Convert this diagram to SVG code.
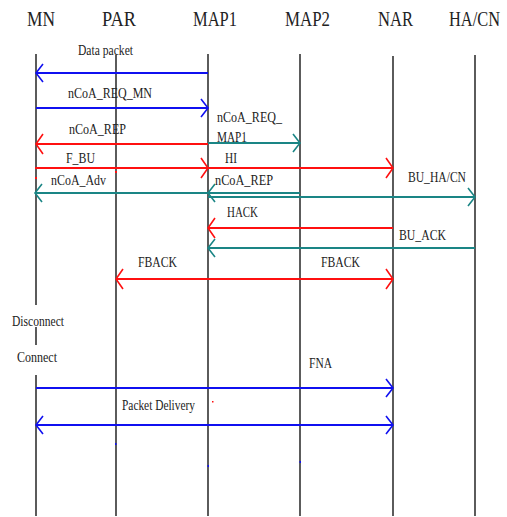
<svg xmlns="http://www.w3.org/2000/svg" width="507" height="517" viewBox="0 0 507 517">
<style>
.life{stroke:#333;stroke-width:1.6;fill:none}
.hdr{font-family:"Liberation Serif","Times New Roman",serif;font-size:21px;fill:#222}
.lbl{font-family:"Liberation Serif","Times New Roman",serif;font-size:14px;fill:#222}
.blue{stroke:#1010f0;stroke-width:2.2;fill:none}
.red{stroke:#ff1010;stroke-width:2.2;fill:none}
.teal{stroke:#1a8585;stroke-width:2.2;fill:none}
</style>
<defs>
<marker id="hb" markerUnits="userSpaceOnUse" markerWidth="20" markerHeight="26" viewBox="-10 -13 20 26" refX="0" refY="0" orient="auto-start-reverse"><path d="M-7,-9 L0,0 L-7,9" fill="none" stroke="#1010f0" stroke-width="1.6"/></marker>
<marker id="hr" markerUnits="userSpaceOnUse" markerWidth="20" markerHeight="26" viewBox="-10 -13 20 26" refX="0" refY="0" orient="auto-start-reverse"><path d="M-7,-10 L0,0 L-7,10" fill="none" stroke="#ff1010" stroke-width="1.6"/></marker>
<marker id="ht" markerUnits="userSpaceOnUse" markerWidth="20" markerHeight="26" viewBox="-10 -13 20 26" refX="0" refY="0" orient="auto-start-reverse"><path d="M-7,-9 L0,0 L-7,9" fill="none" stroke="#1a8585" stroke-width="1.6"/></marker>
</defs>
<rect width="507" height="517" fill="#fff"/>

<g id="MN">
<text class="hdr" x="27" y="26" textLength="28" lengthAdjust="spacingAndGlyphs">MN</text>
<path class="life" d="M36,54 V305 M36,327 V345 M36,375 V516"/>
</g>
<g id="PAR">
<text class="hdr" x="102" y="26" textLength="34" lengthAdjust="spacingAndGlyphs">PAR</text>
<path class="life" d="M116,55 V516"/>
</g>
<g id="MAP1">
<text class="hdr" x="193" y="26" textLength="44" lengthAdjust="spacingAndGlyphs">MAP1</text>
<path class="life" d="M208,54 V516"/>
</g>
<g id="MAP2">
<text class="hdr" x="285" y="26" textLength="45" lengthAdjust="spacingAndGlyphs">MAP2</text>
<path class="life" d="M300,54 V516"/>
</g>
<g id="NAR">
<text class="hdr" x="378" y="26" textLength="35" lengthAdjust="spacingAndGlyphs">NAR</text>
<path class="life" d="M393,56 V516"/>
</g>
<g id="HACN">
<text class="hdr" x="449" y="26" textLength="51" lengthAdjust="spacingAndGlyphs">HA/CN</text>
<path class="life" d="M475,55 V516"/>
</g>

<g id="connectors">
<line class="blue" x1="208" y1="73" x2="36" y2="73" marker-end="url(#hb)"/>
<line class="blue" x1="36" y1="108" x2="208" y2="108" marker-end="url(#hb)"/>
<line class="teal" x1="208" y1="143" x2="300" y2="143" marker-end="url(#ht)"/>
<line class="red" x1="208" y1="144" x2="36" y2="144" marker-end="url(#hr)"/>
<line class="red" x1="35" y1="168" x2="208" y2="168" marker-end="url(#hr)"/>
<line class="red" x1="208" y1="168" x2="393" y2="168" marker-end="url(#hr)"/>
<line class="teal" x1="208" y1="193" x2="35" y2="193" marker-end="url(#ht)"/>
<line class="teal" x1="300" y1="193" x2="208" y2="193" marker-end="url(#ht)"/>
<line class="teal" x1="208" y1="197" x2="475" y2="197" marker-end="url(#ht)"/>
<line class="red" x1="393" y1="228" x2="208" y2="228" marker-end="url(#hr)"/>
<line class="teal" x1="475" y1="248" x2="208" y2="248" marker-end="url(#ht)"/>
<line class="red" x1="116" y1="279" x2="393" y2="279" marker-start="url(#hr)" marker-end="url(#hr)"/>
<line class="blue" x1="36" y1="388" x2="393" y2="388" marker-end="url(#hb)"/>
<line class="blue" x1="36" y1="425" x2="393" y2="425" marker-start="url(#hb)" marker-end="url(#hb)"/>
</g>

<g id="labels">
<text class="lbl" x="78" y="55" textLength="55" lengthAdjust="spacingAndGlyphs">Data packet</text>
<text class="lbl" x="68" y="98" textLength="84" lengthAdjust="spacingAndGlyphs">nCoA_REQ_MN</text>
<text class="lbl" x="217" y="122" textLength="65" lengthAdjust="spacingAndGlyphs">nCoA_REQ_</text>
<text class="lbl" x="217" y="142" textLength="30" lengthAdjust="spacingAndGlyphs">MAP1</text>
<text class="lbl" x="69" y="134" textLength="57" lengthAdjust="spacingAndGlyphs">nCoA_REP</text>
<text class="lbl" x="66" y="163" textLength="29" lengthAdjust="spacingAndGlyphs">F_BU</text>
<text class="lbl" x="225" y="163" textLength="12" lengthAdjust="spacingAndGlyphs">HI</text>
<text class="lbl" x="51" y="185" textLength="55" lengthAdjust="spacingAndGlyphs">nCoA_Adv</text>
<text class="lbl" x="215" y="185" textLength="58" lengthAdjust="spacingAndGlyphs">nCoA_REP</text>
<text class="lbl" x="408" y="182" textLength="58" lengthAdjust="spacingAndGlyphs">BU_HA/CN</text>
<text class="lbl" x="227" y="217" textLength="31" lengthAdjust="spacingAndGlyphs">HACK</text>
<text class="lbl" x="399" y="240" textLength="47" lengthAdjust="spacingAndGlyphs">BU_ACK</text>
<text class="lbl" x="138" y="267" textLength="39" lengthAdjust="spacingAndGlyphs">FBACK</text>
<text class="lbl" x="321" y="267" textLength="39" lengthAdjust="spacingAndGlyphs">FBACK</text>
<text class="lbl" x="12" y="326" textLength="52" lengthAdjust="spacingAndGlyphs">Disconnect</text>
<text class="lbl" x="17" y="362" textLength="40" lengthAdjust="spacingAndGlyphs">Connect</text>
<text class="lbl" x="309" y="368" textLength="23" lengthAdjust="spacingAndGlyphs">FNA</text>
<text class="lbl" x="122" y="410" textLength="73" lengthAdjust="spacingAndGlyphs">Packet Delivery</text>
</g>

<g id="specks">
<rect x="212" y="401" width="1.5" height="1.5" fill="#ff1010"/>
<rect x="115" y="443" width="1.5" height="2" fill="#1010f0"/>
<rect x="207.5" y="465" width="1.5" height="2" fill="#1010f0"/>
<rect x="299.5" y="461" width="1.5" height="2" fill="#1010f0"/>
<rect x="35" y="177" width="2" height="2" fill="#ff1010"/>
<rect x="115" y="171" width="2" height="2" fill="#ff1010"/>
</g>
</svg>
